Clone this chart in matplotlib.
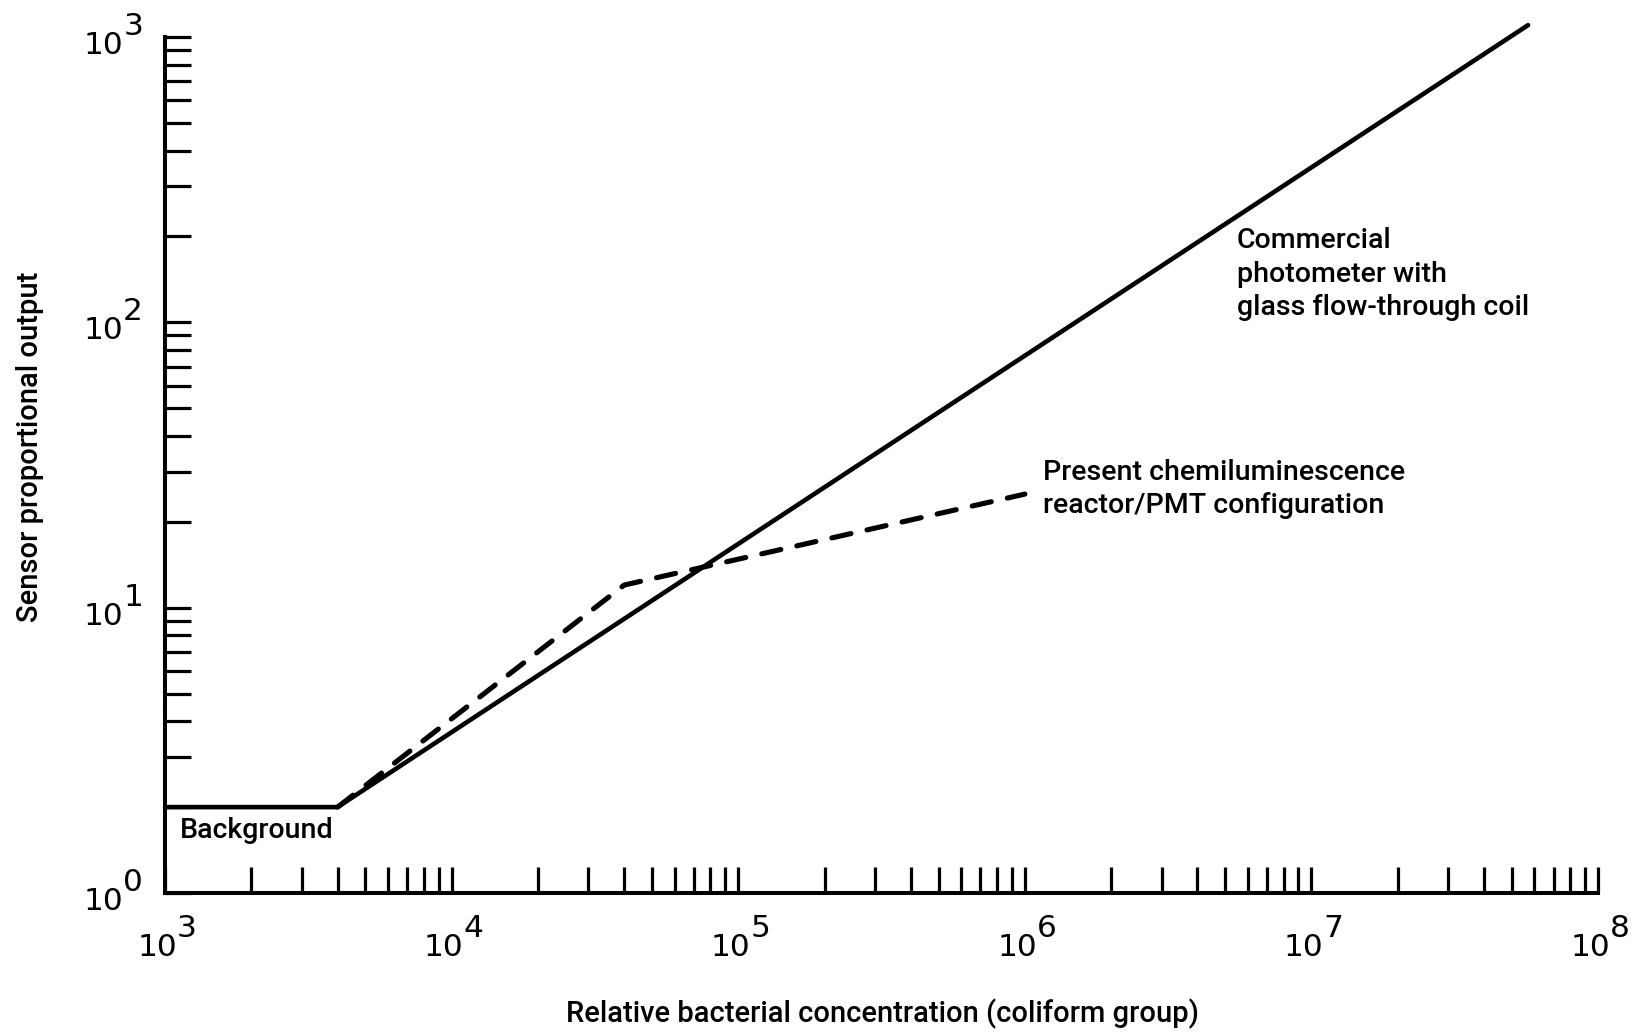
import numpy as np
import matplotlib
matplotlib.use("Agg")
import matplotlib.pyplot as plt
from matplotlib.ticker import LogLocator, NullFormatter

plt.rcParams['font.family'] = ['Roboto', 'Liberation Sans', 'DejaVu Sans']

# commercial photometer (solid) : flat background then straight rise
photometer_x = [1e3, 4e3, 5.7e7]
photometer_y = [2, 2, 1100]

# chemiluminescence reactor/PMT (dashed)
chemi_x = [4e3, 4e4, 1e6]
chemi_y = [2, 12, 25]

x_exponents = [3, 4, 5, 6, 7, 8]
y_exponents = [0, 1, 2, 3]

DPI = 100
px = 72.0 / DPI  # pixels -> points

fig = plt.figure(figsize=(16.39, 10.35), dpi=DPI)
ax = fig.add_axes([0.1007, 0.1372, 0.8743, 0.8271])

ax.plot(photometer_x, photometer_y, color='black', lw=3.3,
        solid_joinstyle='round', solid_capstyle='round', clip_on=False)
ax.plot(chemi_x, chemi_y, color='black', lw=3.7, dashes=(3.8, 3.2),
        dash_capstyle='round', dash_joinstyle='round', clip_on=False)

ax.set_xscale('log')
ax.set_yscale('log')
ax.set_xlim(1e3, 1e8)
ax.set_ylim(1e0, 1e3)

for axis in (ax.xaxis, ax.yaxis):
    axis.set_major_locator(LogLocator(base=10, numticks=20))
    axis.set_minor_locator(LogLocator(base=10, subs=np.arange(2, 10), numticks=100))
    axis.set_minor_formatter(NullFormatter())

ax.tick_params(which='both', direction='in', length=26 * px, width=3.2 * px,
               labelbottom=False, labelleft=False, color='black')
for s in ['top', 'right']:
    ax.spines[s].set_visible(False)
for s in ['left', 'bottom']:
    ax.spines[s].set_linewidth(2.9)

tick_font = dict(family='DejaVu Sans', fontsize=22.5, annotation_clip=False)

# tick labels written as "10" plus a full-size raised exponent, like the original
for e in x_exponents:
    ax.annotate('10', xy=(10.0 ** e, 0), xycoords=('data', 'axes fraction'),
                xytext=(12 * px, -63 * px), textcoords='offset points',
                ha='right', va='baseline', **tick_font)
    ax.annotate(str(e), xy=(10.0 ** e, 0), xycoords=('data', 'axes fraction'),
                xytext=(12 * px, -44 * px), textcoords='offset points',
                ha='left', va='baseline', **tick_font)

for e in y_exponents:
    ax.annotate('10', xy=(0, 10.0 ** e), xycoords=('axes fraction', 'data'),
                xytext=(-42 * px, -17 * px), textcoords='offset points',
                ha='right', va='baseline', **tick_font)
    ax.annotate(str(e), xy=(0, 10.0 ** e), xycoords=('axes fraction', 'data'),
                xytext=(-22 * px, 2 * px), textcoords='offset points',
                ha='right', va='baseline', **tick_font)

txt = dict(fontsize=20.5, fontweight='medium')
ax.text(5.5e6, 215, 'Commercial\nphotometer with\nglass flow-through coil',
        ha='left', va='top', linespacing=1.3, **txt)
ax.text(1.16e6, 33.3, 'Present chemiluminescence\nreactor/PMT configuration',
        ha='left', va='top', linespacing=1.3, **txt)
ax.text(1.13e3, 1.65, 'Background', ha='left', va='center', **txt)

fig.text(883 / 1639, 1 - 1014 / 1035, 'Relative bacterial concentration (coliform group)',
         ha='center', va='center', fontsize=21, fontweight='medium')
fig.text(30 / 1639, 1 - 447 / 1035, 'Sensor proportional output',
         ha='center', va='center', rotation=90, fontsize=21, fontweight='medium')

fig.savefig('out.png', dpi=DPI)
